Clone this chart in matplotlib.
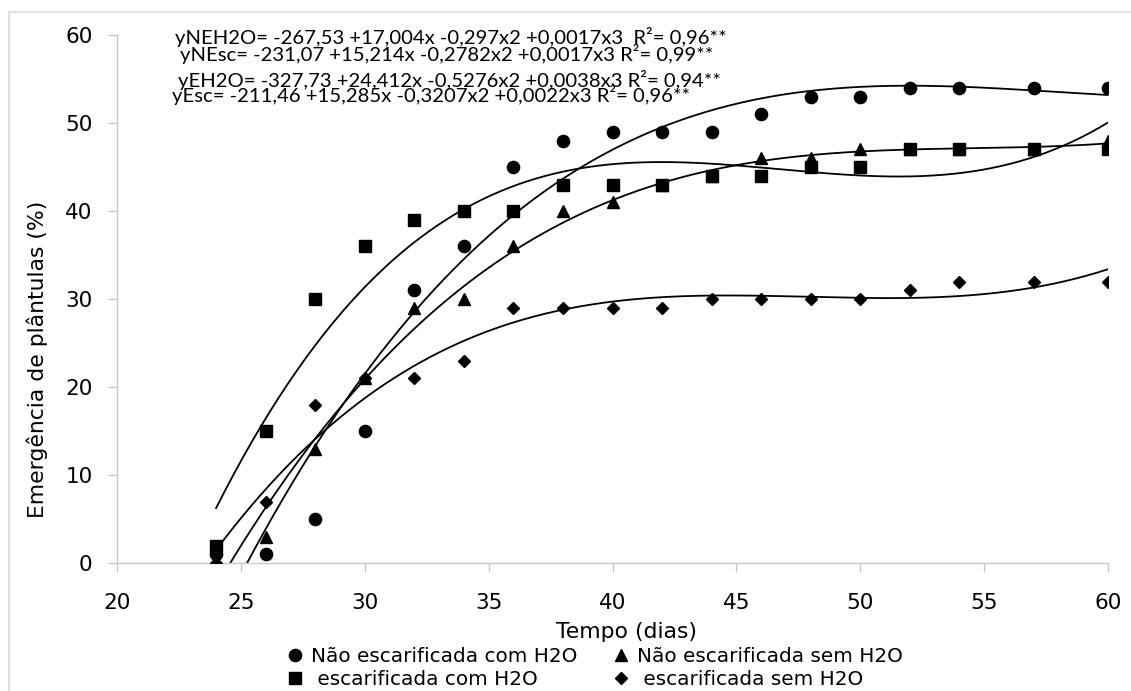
import numpy as np
import matplotlib
matplotlib.use("Agg")
from matplotlib import pyplot as plt
from matplotlib.patches import Rectangle

# dias de avaliacao
dias = [24, 26, 28, 30, 32, 34, 36, 38, 40, 42, 44, 46, 48, 50, 52, 54, 57, 60]

# emergencia (%) de cada tratamento
nao_esc_com_h2o = [1, 1, 5, 15, 31, 36, 45, 48, 49, 49, 49, 51, 53, 53, 54, 54, 54, 54]
nao_esc_sem_h2o = [0, 3, 13, 21, 29, 30, 36, 40, 41, 43, 44, 46, 46, 47, 47, 47, 47, 48]
esc_com_h2o = [2, 15, 30, 36, 39, 40, 40, 43, 43, 43, 44, 44, 45, 45, 47, 47, 47, 47]
esc_sem_h2o = [0, 7, 18, 21, 21, 23, 29, 29, 29, 29, 30, 30, 30, 30, 31, 32, 32, 32]

labels = ["Não escarificada com H2O", "Não escarificada sem H2O",
          " escarificada com H2O", " escarificada sem H2O"]

equations = [
    "yNEH2O= -267,53 +17,004x -0,297x2 +0,0017x3  R²= 0,96**",
    "yNEsc= -231,07 +15,214x -0,2782x2 +0,0017x3 R²= 0,99**",
    "yEH2O= -327,73 +24,412x -0,5276x2 +0,0038x3 R²= 0,94**",
    "yEsc= -211,46 +15,285x -0,3207x2 +0,0022x3 R²= 0,96**",
]

W, H = 1131, 691
fig = plt.figure(figsize=(W / 100, H / 100), dpi=100)
ax = fig.add_axes([117 / W, 1 - 563.3 / H, (1108 - 117) / W, (563.3 - 35) / H])
renderer = fig.canvas.get_renderer()


def fit_size(t, target, vertical=False):
    """rescale a text so that its length in pixels is the target"""
    bb = t.get_window_extent(renderer)
    length = bb.height if vertical else bb.width
    t.set_fontsize(t.get_fontsize() * target / length)


# light frame around the chart (Excel style), cut by the right/bottom edges
fig.patches.append(Rectangle((9 / W, -0.2), 1.5, 1.2 - 12 / H, transform=fig.transFigure,
                             fill=False, edgecolor="#d9d9d9", linewidth=1.2))

series = [
    (nao_esc_com_h2o, "o", 8.8),
    (nao_esc_sem_h2o, "^", 9.2),
    (esc_com_h2o, "s", 9.0),
    (esc_sem_h2o, "D", 6.6),
]

xs = np.linspace(dias[0], dias[-1], 400)
handles = []
for (vals, marker, size), label in zip(series, labels):
    h, = ax.plot(dias, vals, linestyle="none", marker=marker, markersize=size,
                 color="black", label=label, zorder=3)
    handles.append(h)
    # polynomial trend line (3rd order), as in the spreadsheet
    coef = np.polyfit(dias, vals, 3)
    ax.plot(xs, np.polyval(coef, xs), color="black", linewidth=1.3, zorder=2)

ax.set_xlim(20, 60)
ax.set_ylim(0, 60)
ax.set_xticks(range(20, 61, 5))
ax.set_yticks(range(0, 61, 10))

for side in ["top", "right"]:
    ax.spines[side].set_visible(False)
for side in ["left", "bottom"]:
    ax.spines[side].set_color("#c8c8c8")
    ax.spines[side].set_linewidth(1.0)
ax.tick_params(axis="both", direction="out", length=6.5, width=1.0, color="#c8c8c8",
               labelsize=15.5, labelcolor="black")
ax.tick_params(axis="x", pad=15)
ax.tick_params(axis="y", pad=11)

# axis titles, same size for both
ax.set_ylabel("Emergência de plântulas (%)", fontsize=15.8)
ax.yaxis.set_label_coords((37 - 117) / 991, (563.3 - 359) / 528.3)
ax.yaxis.label.set_va("center")
fit_size(ax.yaxis.label, 318, vertical=True)
ax.set_xlabel("Tempo (dias)", fontsize=ax.yaxis.label.get_fontsize())
ax.xaxis.set_label_coords((626 - 117) / 991, (563.3 - 632) / 528.3)
ax.xaxis.label.set_va("center")

# equations of the fitted curves (left x, centre y, width in pixels)
eq_pos = [(175, 37, 552), (180, 54, 533), (178, 80, 539), (172, 95, 521)]
eq_texts = []
for text, (px, py, _) in zip(equations, eq_pos):
    t = fig.text(px / W, 1 - py / H, text, fontsize=13.4, family="Lato",
                 ha="left", va="center")
    eq_texts.append(t)

# one common font size, chosen so the lines are as wide as in the original
ratios = [p[2] / t.get_window_extent(renderer).width for t, p in zip(eq_texts, eq_pos)]
for t in eq_texts:
    t.set_fontsize(13.4 * np.mean(ratios))

# legend font size: first label should be about 266 px wide
probe = fig.text(0, 0, labels[0], fontsize=14.4)
leg_size = 14.4 * 266 / probe.get_window_extent(renderer).width
probe.remove()

# legend in two columns below the axis
order = [handles[0], handles[2], handles[1], handles[3]]
em = leg_size * 100 / 72
leg = fig.legend(order, [h.get_label() for h in order], ncol=2, frameon=False,
                 loc="upper left", bbox_to_anchor=(277 / W, 1 - 637 / H),
                 fontsize=leg_size, handlelength=16 / em, handletextpad=8 / em,
                 columnspacing=36 / em, labelspacing=0.22, borderpad=0, markerscale=1.0)

plt.savefig("out.png", dpi=100)
